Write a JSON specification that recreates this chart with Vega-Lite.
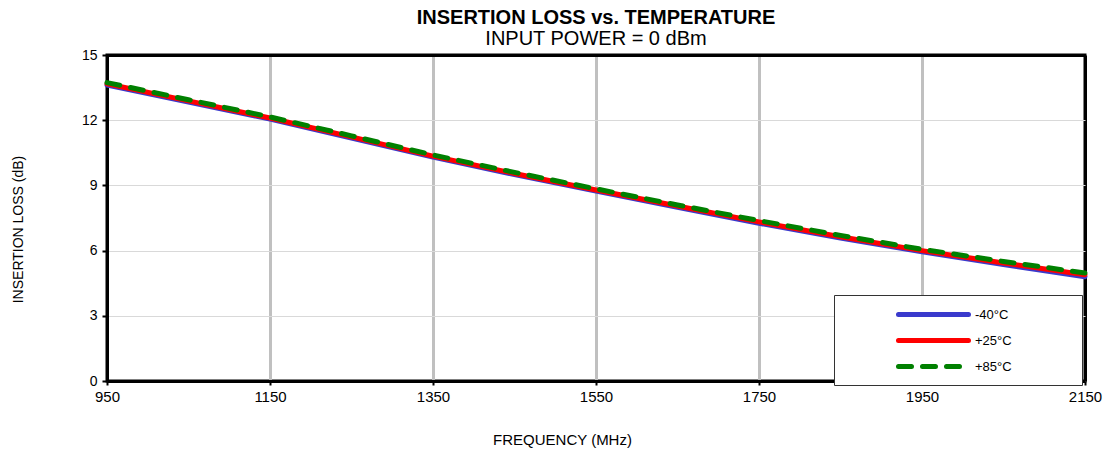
{
  "$schema": "https://vega.github.io/schema/vega-lite/v6.json",
  "width": 978,
  "height": 326,
  "autosize": {"type": "none"},
  "padding": {"left": 107, "top": 55, "right": 26, "bottom": 76},
  "background": "white",
  "config": {
    "font": "Liberation Sans",
    "view": {"stroke": "black", "strokeWidth": 3},
    "axis": {"labelFont": "Liberation Sans", "titleFont": "Liberation Sans", "labelColor": "black", "titleColor": "black", "titleFontWeight": "normal", "domainColor": "black", "domainWidth": 3, "tickColor": "black", "tickWidth": 2}
  },
  "title": {
    "text": "INSERTION LOSS vs. TEMPERATURE",
    "subtitle": "INPUT POWER = 0 dBm",
    "font": "Liberation Sans",
    "fontSize": 20,
    "fontWeight": "bold",
    "color": "black",
    "subtitleFont": "Liberation Sans",
    "subtitleFontSize": 20,
    "subtitleColor": "black",
    "subtitlePadding": 1,
    "anchor": "middle",
    "offset": -1
  },
  "data": {
    "values": [
      {"freq": 950, "loss": 13.62, "temp": "-40°C"},
      {"freq": 1050, "loss": 12.84, "temp": "-40°C"},
      {"freq": 1150, "loss": 12.05, "temp": "-40°C"},
      {"freq": 1250, "loss": 11.18, "temp": "-40°C"},
      {"freq": 1350, "loss": 10.30, "temp": "-40°C"},
      {"freq": 1450, "loss": 9.50, "temp": "-40°C"},
      {"freq": 1550, "loss": 8.74, "temp": "-40°C"},
      {"freq": 1650, "loss": 7.99, "temp": "-40°C"},
      {"freq": 1750, "loss": 7.26, "temp": "-40°C"},
      {"freq": 1850, "loss": 6.58, "temp": "-40°C"},
      {"freq": 1950, "loss": 5.95, "temp": "-40°C"},
      {"freq": 2050, "loss": 5.36, "temp": "-40°C"},
      {"freq": 2150, "loss": 4.80, "temp": "-40°C"},
      {"freq": 950, "loss": 13.68, "temp": "+25°C"},
      {"freq": 1050, "loss": 12.89, "temp": "+25°C"},
      {"freq": 1150, "loss": 12.10, "temp": "+25°C"},
      {"freq": 1250, "loss": 11.23, "temp": "+25°C"},
      {"freq": 1350, "loss": 10.35, "temp": "+25°C"},
      {"freq": 1450, "loss": 9.55, "temp": "+25°C"},
      {"freq": 1550, "loss": 8.79, "temp": "+25°C"},
      {"freq": 1650, "loss": 8.05, "temp": "+25°C"},
      {"freq": 1750, "loss": 7.32, "temp": "+25°C"},
      {"freq": 1850, "loss": 6.64, "temp": "+25°C"},
      {"freq": 1950, "loss": 6.00, "temp": "+25°C"},
      {"freq": 2050, "loss": 5.43, "temp": "+25°C"},
      {"freq": 2150, "loss": 4.89, "temp": "+25°C"},
      {"freq": 950, "loss": 13.73, "temp": "+85°C"},
      {"freq": 1050, "loss": 12.94, "temp": "+85°C"},
      {"freq": 1150, "loss": 12.15, "temp": "+85°C"},
      {"freq": 1250, "loss": 11.28, "temp": "+85°C"},
      {"freq": 1350, "loss": 10.40, "temp": "+85°C"},
      {"freq": 1450, "loss": 9.60, "temp": "+85°C"},
      {"freq": 1550, "loss": 8.84, "temp": "+85°C"},
      {"freq": 1650, "loss": 8.10, "temp": "+85°C"},
      {"freq": 1750, "loss": 7.38, "temp": "+85°C"},
      {"freq": 1850, "loss": 6.70, "temp": "+85°C"},
      {"freq": 1950, "loss": 6.06, "temp": "+85°C"},
      {"freq": 2050, "loss": 5.50, "temp": "+85°C"},
      {"freq": 2150, "loss": 4.97, "temp": "+85°C"}
    ]
  },
  "encoding": {
    "x": {
      "field": "freq",
      "type": "quantitative",
      "scale": {"domain": [950, 2150], "nice": false, "zero": false},
      "axis": {
        "title": "FREQUENCY (MHz)",
        "values": [950, 1150, 1350, 1550, 1750, 1950, 2150],
        "format": "d",
        "grid": true,
        "gridColor": {"condition": {"test": "datum.value === 950 || datum.value === 2150", "value": "black"}, "value": "#c0c0c0"},
        "gridWidth": 3,
        "tickSize": 4,
        "labelFontSize": 15,
        "labelFlush": false,
        "labelPadding": 4,
        "titleFontSize": 15,
        "titlePadding": 28,
        "titleX": 455
      }
    },
    "y": {
      "field": "loss",
      "type": "quantitative",
      "scale": {"domain": [0, 15], "nice": false},
      "axis": {
        "title": "INSERTION LOSS (dB)",
        "values": [0, 3, 6, 9, 12, 15],
        "grid": true,
        "gridColor": {"condition": {"test": "datum.value === 15", "value": "black"}, "value": "#d9d9d9"},
        "gridWidth": {"condition": {"test": "datum.value === 15", "value": 3}, "value": 1},
        "tickSize": 5,
        "labelFontSize": 14,
        "labelPadding": 5,
        "titleFontSize": 14,
        "titlePadding": 56,
        "titleY": 174
      }
    },
    "color": {
      "field": "temp",
      "type": "nominal",
      "scale": {"domain": ["-40°C", "+25°C", "+85°C"], "range": ["#3a3acc", "#ff0000", "#008000"]},
      "legend": {
        "title": null,
        "orient": "none",
        "legendX": 727,
        "legendY": 240,
        "direction": "vertical",
        "fillColor": "white",
        "strokeColor": "#333333",
        "padding": 8,
        "symbolType": "M-3.889,0H3.889M14.4,0",
        "symbolSize": 324,
        "symbolStrokeWidth": 5,
        "symbolOffset": 80,
        "labelFont": "Liberation Sans",
        "labelFontSize": 13,
        "labelColor": "black",
        "labelOffset": 30,
        "rowPadding": 4,
        "encode": {
          "symbols": {
            "update": {
              "strokeDash": {"signal": "datum.label === '+85°C' ? [13, 11] : [1, 0]"},
              "strokeCap": {"value": "round"}
            }
          }
        }
      }
    }
  },
  "layer": [
    {
      "transform": [{"filter": "datum.temp !== '+85°C'"}],
      "mark": {"type": "line", "strokeWidth": 5, "strokeCap": "round"}
    },
    {
      "transform": [{"filter": "datum.temp === '+85°C'"}],
      "mark": {"type": "line", "strokeWidth": 5, "strokeCap": "round", "strokeDash": [13, 11]}
    }
  ]
}
